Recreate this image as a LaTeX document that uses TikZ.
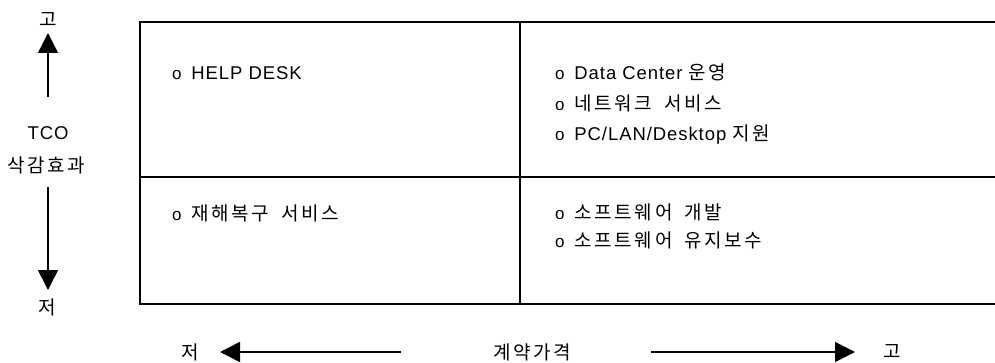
\documentclass[tikz,border=0pt]{standalone}
\usepackage{fontspec}
\setmainfont{Liberation Sans}[LetterSpace=5]
\newfontfamily\kr{Noto Sans CJK KR}[LetterSpace=14,WordSpace=1.7]
\usetikzlibrary{arrows.meta}
\begin{document}
\begin{tikzpicture}[x=1pt,y=-1pt,
  every node/.style={inner sep=0pt,outer sep=0pt,font=\fontsize{18.5}{21}\selectfont},
  item/.style={anchor=west},
  lbl/.style={anchor=center},
  boxline/.style={line width=1.6pt,line cap=rect},
  axis/.style={line width=1.5pt,-{Triangle[width=20pt,length=20pt]}}]
\useasboundingbox (0,0) rectangle (995,363);
\newcommand{\bul}{{\fontsize{17}{17}\selectfont o}\hspace{10pt}}
\newcommand{\kt}[1]{{\kr\fontsize{19}{21}\selectfont #1}}
% box
\draw[boxline] (995,22) -- (140,22) -- (140,304) -- (995,304);
\draw[boxline] (520,22) -- (520,304);
\draw[boxline] (140,177) -- (995,177);
% items
\node[item] (i1) at (172,73) {\bul HELP DESK};
\node[item] (i2) at (172,213) {\bul\kt{재해복구 서비스}};
\node[item] (i3) at (555,72) {\bul Data Center \kt{운영}};
\node[item] (i4) at (555,103) {\bul\kt{네트워크 서비스}};
\node[item] (i5) at (555,135) {\bul PC/LAN/Desktop \kt{지원}};
\node[item] (i6) at (555,212) {\bul\kt{소프트웨어 개발}};
\node[item] (i7) at (555,240) {\bul\kt{소프트웨어 유지보수}};
% vertical axis
\node[lbl] (vhi) at (48,20) {\kt{고}};
\node[lbl] (tco) at (48,133) {TCO};
\node[lbl] (tcok) at (46,165) {\kt{삭감효과}};
\node[lbl] (vlo) at (47,307) {\kt{저}};
\coordinate (vu1) at (48,97);
\coordinate (vu2) at (48,33);
\coordinate (vd1) at (48,187);
\coordinate (vd2) at (48,290);
\draw[axis] (vu1) -- (vu2);
\draw[axis] (vd1) -- (vd2);
% horizontal axis
\node[lbl] (hlo) at (190,352) {\kt{저}};
\node[lbl] (hmid) at (532,352) {\kt{계약가격}};
\node[lbl] (hhi) at (892,352) {\kt{고}};
\coordinate (hl1) at (401,352);
\coordinate (hl2) at (220,352);
\coordinate (hr1) at (651,352);
\coordinate (hr2) at (855,352);
\draw[axis] (hl1) -- (hl2);
\draw[axis] (hr1) -- (hr2);
\end{tikzpicture}
\end{document}
